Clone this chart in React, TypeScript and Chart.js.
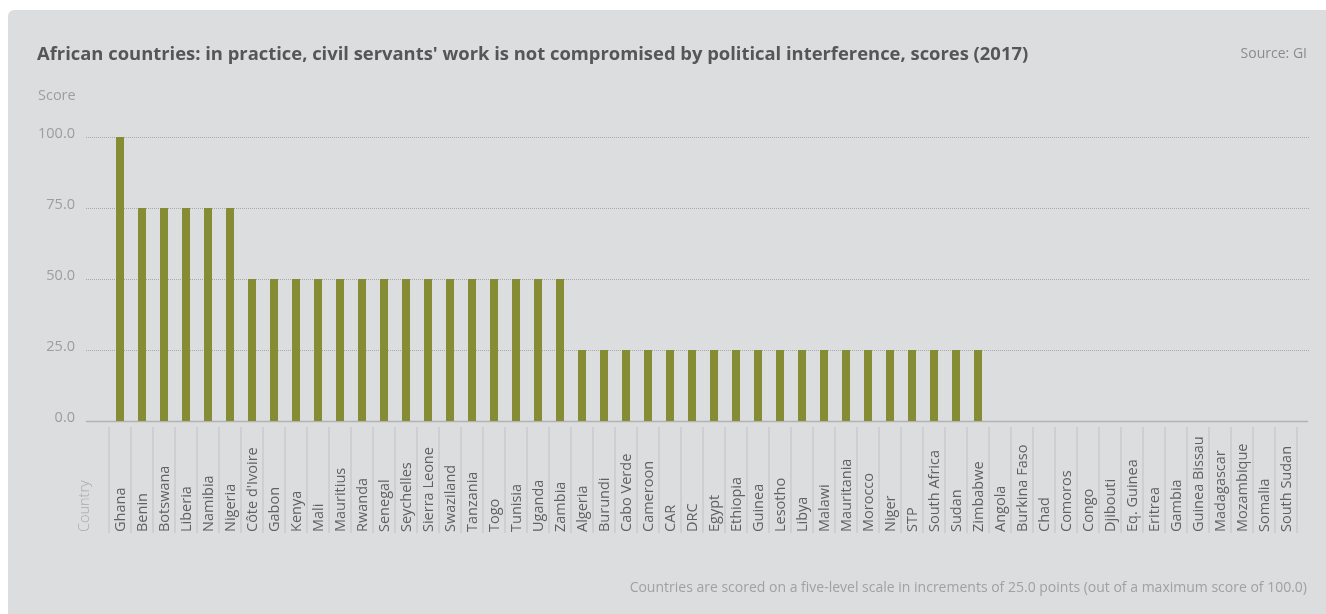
import React, { useEffect, useRef } from "react";
import { Chart, registerables } from "chart.js";

Chart.register(...registerables);

const countries = [
  "Ghana", "Benin", "Botswana", "Liberia", "Namibia", "Nigeria",
  "Côte d'Ivoire", "Gabon", "Kenya", "Mali", "Mauritius", "Rwanda", "Senegal",
  "Seychelles", "Sierra Leone", "Swaziland", "Tanzania", "Togo", "Tunisia",
  "Uganda", "Zambia",
  "Algeria", "Burundi", "Cabo Verde", "Cameroon", "CAR", "DRC", "Egypt",
  "Ethiopia", "Guinea", "Lesotho", "Libya", "Malawi", "Mauritania", "Morocco",
  "Niger", "STP", "South Africa", "Sudan", "Zimbabwe",
  "Angola", "Burkina Faso", "Chad", "Comoros", "Congo", "Djibouti",
  "Eq. Guinea", "Eritrea", "Gambia", "Guinea Bissau", "Madagascar",
  "Mozambique", "Somalia", "South Sudan",
];

const scores = [
  100, 75, 75, 75, 75, 75,
  50, 50, 50, 50, 50, 50, 50, 50, 50, 50, 50, 50, 50, 50, 50,
  25, 25, 25, 25, 25, 25, 25, 25, 25, 25, 25, 25, 25, 25, 25, 25, 25, 25, 25,
  0, 0, 0, 0, 0, 0, 0, 0, 0, 0, 0, 0, 0, 0,
];

const yTicks = [0, 25, 50, 75, 100];

const titleText =
  "African countries: in practice, civil servants' work is not compromised by political interference, scores (2017)";
const sourceText = "Source: GI";
const yAxisTitle = "Score";
const xAxisTitle = "Country";
const footnote =
  "Countries are scored on a five-level scale in increments of 25.0 points (out of a maximum score of 100.0)";

const FONT = "'Open Sans', sans-serif";
const BAR_COLOR = "#858c34";

const W = 1318;
const H = 604;

export default function App() {
  const ref = useRef<HTMLCanvasElement>(null);

  useEffect(() => {
    const canvas = ref.current;
    if (!canvas) return;

    const overlay = {
      id: "overlay",
      beforeDatasetsDraw(chart: any) {
        const { ctx, chartArea, scales } = chart;
        const y = scales.y;
        const left = chartArea.left - 23;
        const right = chartArea.right + 12;
        ctx.save();
        ctx.strokeStyle = "#a8a9ab";
        ctx.lineWidth = 1;
        ctx.setLineDash([1, 1]);
        for (const t of yTicks) {
          if (t === 0) continue;
          const py = Math.round(y.getPixelForValue(t)) + 0.5;
          ctx.beginPath();
          ctx.moveTo(left, py);
          ctx.lineTo(right, py);
          ctx.stroke();
        }
        ctx.setLineDash([]);
        ctx.strokeStyle = "#b2b3b5";
        ctx.lineWidth = 1.5;
        const py0 = y.getPixelForValue(0) + 0.5;
        ctx.beginPath();
        ctx.moveTo(left, py0);
        ctx.lineTo(right - 1, py0);
        ctx.stroke();
        ctx.restore();
      },
      afterDraw(chart: any) {
        const { ctx, chartArea, scales } = chart;
        const x = scales.x;
        const n = countries.length;
        const step = n > 1 ? x.getPixelForValue(1) - x.getPixelForValue(0) : 22;
        const base = chartArea.bottom;
        const sepTop = base + 6;
        const sepBottom = base + 112;
        const labelBottom = base + 111;
        ctx.save();
        // separators
        ctx.strokeStyle = "#c9cacc";
        ctx.lineWidth = 1.5;
        for (let i = 0; i <= n; i++) {
          const px = x.getPixelForValue(0) - step / 2 + i * step;
          ctx.beginPath();
          ctx.moveTo(px, sepTop);
          ctx.lineTo(px, sepBottom);
          ctx.stroke();
        }
        // labels
        ctx.fillStyle = "#606163";
        ctx.font = `14.5px ${FONT}`;
        ctx.textAlign = "left";
        ctx.textBaseline = "middle";
        for (let i = 0; i < n; i++) {
          const px = x.getPixelForValue(i) + 1;
          ctx.save();
          ctx.translate(px, labelBottom);
          ctx.rotate(-Math.PI / 2);
          ctx.fillText(countries[i], 0, 0);
          ctx.restore();
        }
        // axis title
        ctx.fillStyle = "#a9aaac";
        ctx.font = `300 14.5px ${FONT}`;
        ctx.save();
        ctx.translate(chartArea.left - 24, labelBottom);
        ctx.rotate(-Math.PI / 2);
        ctx.fillText(xAxisTitle, 0, 0);
        ctx.restore();
        ctx.restore();
      },
    };

    const chart = new Chart(canvas, {
      type: "bar",
      data: {
        labels: countries,
        datasets: [
          {
            data: scores,
            backgroundColor: BAR_COLOR,
            borderWidth: 0,
            barPercentage: 8 / 22,
            categoryPercentage: 1,
          },
        ],
      },
      options: {
        responsive: false,
        animation: false,
        layout: { padding: { left: 0, right: 29, top: 127, bottom: 193 } },
        plugins: {
          legend: { display: false },
          tooltip: { enabled: false },
          title: { display: false },
        },
        scales: {
          x: {
            type: "category",
            offset: true,
            grid: { display: false },
            border: { display: false },
            ticks: { display: false },
            afterFit: (s: any) => {
              s.height = 0;
            },
          },
          y: {
            min: 0,
            max: 100,
            afterBuildTicks: (s: any) => {
              s.ticks = yTicks.map((v) => ({ value: v }));
            },
            grid: { display: false, drawTicks: false },
            border: { display: false },
            ticks: {
              padding: 34,
              labelOffset: -3,
              color: "#9c9d9f",
              font: { family: FONT, size: 14.5 },
              callback: (v: any) => Number(v).toFixed(1),
            },
            afterFit: (s: any) => {
              s.width = 101;
            },
          },
        },
      },
      plugins: [overlay],
    });

    return () => chart.destroy();
  }, []);

  return (
    <div
      style={{
        position: "fixed",
        left: 8,
        top: 10,
        width: W + 10,
        height: H + 10,
        background: "#dcdddf",
        borderRadius: 6,
        fontFamily: FONT,
        overflow: "hidden",
      }}
    >
      <canvas
        ref={ref}
        width={W}
        height={H}
        style={{ position: "absolute", left: 0, top: 0, width: W, height: H }}
      />
      <div
        style={{
          position: "absolute",
          left: 29,
          top: 32,
          lineHeight: "22px",
          fontSize: 18.4,
          fontWeight: 700,
          color: "#555658",
          whiteSpace: "nowrap",
        }}
      >
        {titleText}
      </div>
      <div
        style={{
          position: "absolute",
          right: 29,
          top: 33,
          lineHeight: "20px",
          fontSize: 14,
          color: "#8a8b8d",
          whiteSpace: "nowrap",
        }}
      >
        {sourceText}
      </div>
      <div
        style={{
          position: "absolute",
          left: 30,
          top: 75,
          lineHeight: "20px",
          fontSize: 14.5,
          color: "#9d9ea0",
        }}
      >
        {yAxisTitle}
      </div>
      <div
        style={{
          position: "absolute",
          right: 29,
          top: 567,
          lineHeight: "20px",
          fontSize: 14,
          color: "#a0a1a3",
          whiteSpace: "nowrap",
        }}
      >
        {footnote}
      </div>
    </div>
  );
}
